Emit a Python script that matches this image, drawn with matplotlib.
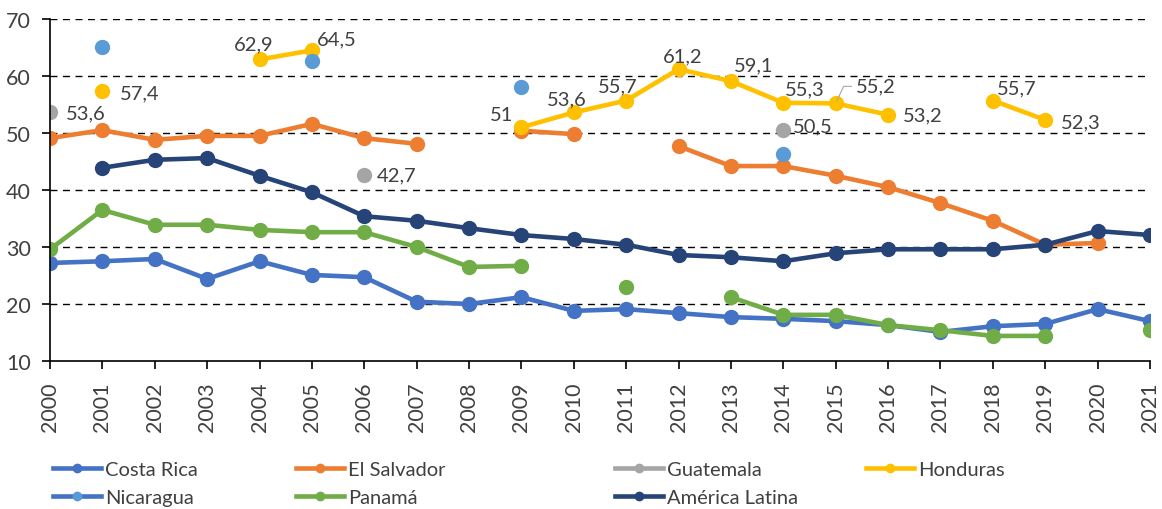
import numpy as np
import matplotlib
matplotlib.use('Agg')
import matplotlib.pyplot as plt
from matplotlib.lines import Line2D

nan = np.nan

# data
years = list(range(2000, 2022))
costa_rica = [27.2, 27.5, 27.9, 24.4, 27.5, 25.1, 24.7, 20.4, 20.0, 21.2, 18.8,
              19.1, 18.4, 17.7, 17.4, 17.0, 16.3, 15.1, 16.1, 16.5, 19.1, 17.0]
el_salvador = [49.1, 50.5, 48.8, 49.5, 49.5, 51.6, 49.1, 48.1, nan, 50.4, 49.8,
               nan, 47.7, 44.2, 44.2, 42.5, 40.5, 37.7, 34.6, 30.4, 30.7, nan]
guatemala = [53.6, nan, nan, nan, nan, nan, 42.7, nan, nan, nan, nan,
             nan, nan, nan, 50.5, nan, nan, nan, nan, nan, nan, nan]
honduras = [nan, 57.4, nan, nan, 62.9, 64.5, nan, nan, nan, 51.0, 53.6,
            55.7, 61.2, 59.1, 55.3, 55.2, 53.2, nan, 55.7, 52.3, nan, nan]
nicaragua = [nan, 65.1, nan, nan, nan, 62.6, nan, nan, nan, 58.1, nan,
             nan, nan, nan, 46.3, nan, nan, nan, nan, nan, nan, nan]
panama = [29.6, 36.5, 33.9, 33.9, 33.0, 32.6, 32.6, 30.0, 26.5, 26.7, nan,
          23.0, nan, 21.2, 18.1, 18.1, 16.3, 15.4, 14.4, 14.4, nan, 15.4]
america_latina = [nan, 43.9, 45.3, 45.6, 42.5, 39.6, 35.4, 34.6, 33.3, 32.1, 31.4,
                  30.4, 28.6, 28.2, 27.5, 28.9, 29.6, 29.6, 29.6, 30.4, 32.8, 32.1]

names = ['Costa Rica', 'El Salvador', 'Guatemala', 'Honduras', 'Nicaragua', 'Panamá', 'América Latina']
series = [costa_rica, el_salvador, guatemala, honduras, nicaragua, panama, america_latina]
colors = ['#4472C4', '#ED7D31', '#A5A5A5', '#FFC000', '#5B9BD5', '#70AD47', '#264478']

# value labels: (series index, year, pixel offset, ha)
labels = [
    (2, 2000, (16, 0), 'left'),
    (3, 2001, (18, -2), 'left'),
    (3, 2004, (-6, 16), 'center'),
    (3, 2005, (5, 11), 'left'),
    (3, 2009, (-8, 13), 'right'),
    (3, 2010, (-7, 14), 'center'),
    (3, 2011, (-8, 15), 'center'),
    (3, 2012, (4, 13), 'center'),
    (3, 2013, (3, 16), 'left'),
    (3, 2014, (2, 14), 'left'),
    (3, 2016, (15, 0), 'left'),
    (3, 2018, (4, 13), 'left'),
    (3, 2019, (16, -2), 'left'),
    (2, 2006, (12, 0), 'left'),
    (2, 2014, (10, 4), 'left'),
]

plt.rcParams['font.family'] = ['Lato', 'DejaVu Sans']
txt_color = '#404040'

fig = plt.figure(figsize=(11.62, 5.10), dpi=100)
ax = fig.add_axes([50 / 1162, 1 - 362 / 510, 1100 / 1162, 342 / 510])

for s, c in zip(series, colors):
    lw = 0 if c in ('#A5A5A5', '#5B9BD5') else 3.3
    ax.plot(years, s, color=c, lw=lw, marker='o', markersize=10, solid_capstyle='round')

for idx, yr, off, ha in labels:
    v = series[idx][years.index(yr)]
    ax.annotate(f'{v:.1f}'.replace('.0', '').replace('.', ','), (yr, v), xytext=off,
                textcoords='offset pixels', ha=ha, va='center', fontsize=14.5, color=txt_color)

# 55,2 with leader line
v = honduras[years.index(2015)]
ax.annotate('55,2', (2015, v), xytext=(20, 17), textcoords='offset pixels', ha='left', va='center',
            fontsize=14.5, color=txt_color,
            arrowprops=dict(arrowstyle='-', color='#A5A5A5', lw=0.8, shrinkA=1, shrinkB=2,
                            relpos=(0, 0.5), connectionstyle='angle,angleA=0,angleB=65,rad=0'))

ax.set_xlim(2000, 2021)
ax.set_ylim(10, 70)
ax.set_xticks(years)
ax.set_xticklabels([str(y) for y in years], rotation=90)
ax.set_yticks(range(10, 71, 10))
for yv in range(20, 71, 10):
    ax.axhline(yv, color='black', lw=1, ls=(0, (5, 4)), zorder=0)
for sp in ['top', 'right']:
    ax.spines[sp].set_visible(False)
ax.spines['left'].set_linewidth(1.2)
ax.spines['bottom'].set_linewidth(1.2)
ax.tick_params(axis='both', labelsize=15.5, labelcolor=txt_color, length=6, width=1.2)
ax.tick_params(axis='x', pad=9)
ax.tick_params(axis='y', pad=8)
ax.set_axisbelow(True)

# legend, one column at a time
def handle(lc, mc):
    return Line2D([], [], color=lc, lw=3.3, marker='o', markersize=6, markerfacecolor=mc, markeredgecolor=mc)

cols = [
    (53, [('Costa Rica', colors[0], colors[0]), ('Nicaragua', colors[0], colors[4])]),
    (296, [('El Salvador', colors[1], colors[1]), ('Panamá', colors[5], colors[5])]),
    (615, [('Guatemala', colors[2], colors[2]), ('América Latina', colors[6], colors[6])]),
    (866, [('Honduras', colors[3], colors[3])]),
]
for x0, entries in cols:
    hs = [handle(lc, mc) for _, lc, mc in entries]
    ls = [n for n, _, _ in entries]
    leg = fig.legend(hs, ls, loc='upper left', bbox_to_anchor=(x0 / 1162, 1 - 462 / 510),
                     frameon=False, fontsize=14.5, handlelength=2.4, handletextpad=0.2,
                     borderpad=0, borderaxespad=0, labelspacing=0.55)
    for t in leg.get_texts():
        t.set_color(txt_color)

fig.savefig('out.png', dpi=100)
